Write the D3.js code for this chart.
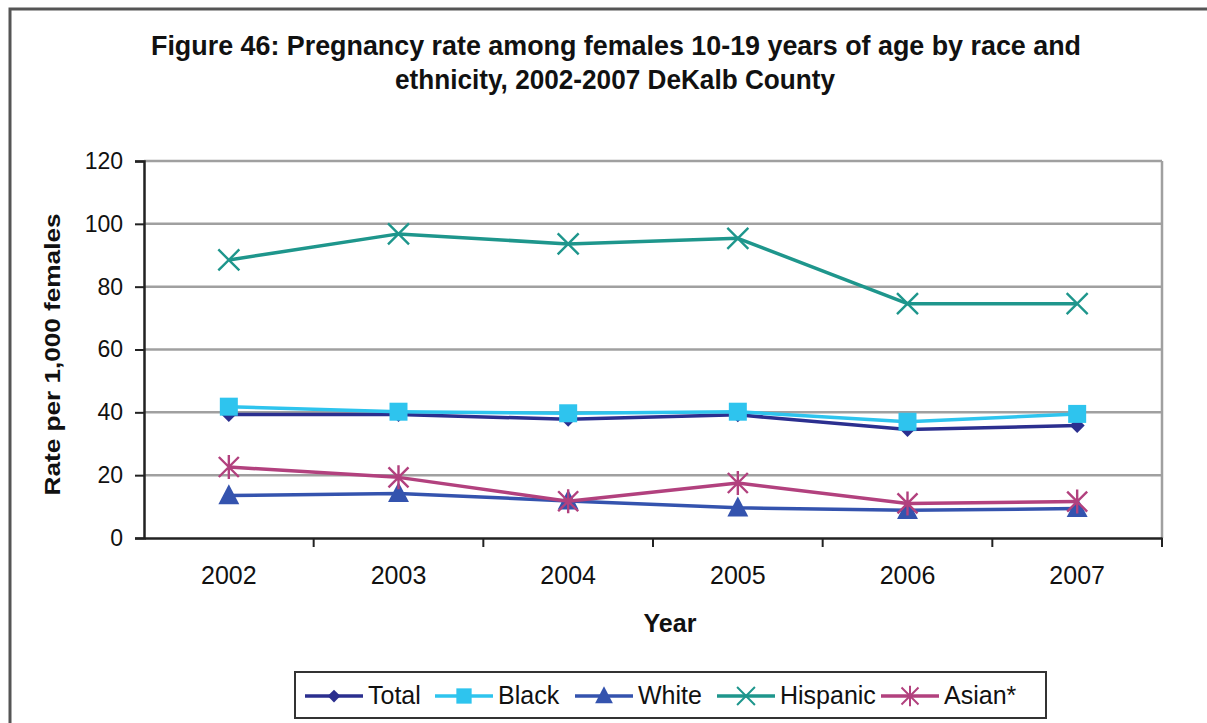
<!DOCTYPE html>
<html>
<head>
<meta charset="utf-8">
<script src="https://cdn.jsdelivr.net/npm/d3@7/dist/d3.min.js"></script>
<style>
  html, body { margin: 0; padding: 0; background: #fff; }
  svg { display: block; }
  text { font-family: "Liberation Sans", Arial, sans-serif; fill: #111; }
</style>
</head>
<body>
<svg id="chart" width="1207" height="723"></svg>
<script>
// Pregnancy rate per 1,000 females aged 10-19, DeKalb County
const years = ["2002", "2003", "2004", "2005", "2006", "2007"];
const total    = [39.3, 39.3, 37.8, 39.2, 34.5, 35.8];
const black    = [41.8, 40.2, 39.7, 40.2, 37.0, 39.5];
const white    = [13.5, 14.2, 11.8, 9.6, 8.8, 9.4];
const hispanic = [88.5, 96.8, 93.6, 95.4, 74.6, 74.6];
const asian    = [22.6, 19.3, 11.7, 17.5, 11.0, 11.6];
const yTicks = [0, 20, 40, 60, 80, 100, 120];

const seriesNames = ["Total", "Black", "White", "Hispanic", "Asian*"];
const seriesValues = [total, black, white, hispanic, asian];
const seriesColors = ["#2B2F8F", "#2EC4EE", "#3453AE", "#1E968C", "#B2417E"];
const seriesMarkers = ["diamond", "square", "triangle", "x", "asterisk"];

const svg = d3.select("#chart");

// outer frame (top and left edges visible)
svg.append("path")
  .attr("d", "M10,723 L10,9 L1207,9")
  .attr("fill", "none")
  .attr("stroke", "#555")
  .attr("stroke-width", 3);

// title
const title = svg.append("g");
title.append("text")
  .attr("x", 616).attr("y", 55)
  .attr("text-anchor", "middle")
  .attr("font-size", 27).attr("font-weight", "bold")
  .attr("textLength", 930).attr("lengthAdjust", "spacingAndGlyphs")
  .text("Figure 46: Pregnancy rate among females 10-19 years of age by race and");
title.append("text")
  .attr("x", 615).attr("y", 89)
  .attr("text-anchor", "middle")
  .attr("font-size", 27).attr("font-weight", "bold")
  .attr("textLength", 440).attr("lengthAdjust", "spacingAndGlyphs")
  .text("ethnicity, 2002-2007 DeKalb County");

// plot area
const plotLeft = 144, plotRight = 1162, plotTop = 161, plotBottom = 538;

const x = d3.scaleBand().domain(years).range([plotLeft, plotRight]).padding(0);
const y = d3.scaleLinear().domain([0, 120]).range([plotBottom, plotTop]);

// gridlines
svg.append("g")
  .selectAll("line")
  .data(yTicks.filter(d => d > 0))
  .join("line")
  .attr("x1", plotLeft).attr("x2", plotRight)
  .attr("y1", d => y(d)).attr("y2", d => y(d))
  .attr("stroke", "#a0a0a0")
  .attr("stroke-width", 2.5);

// right edge of plot area
svg.append("line")
  .attr("x1", plotRight).attr("x2", plotRight)
  .attr("y1", plotTop).attr("y2", plotBottom)
  .attr("stroke", "#a0a0a0")
  .attr("stroke-width", 2.5);

// y axis
const yAxis = svg.append("g")
  .attr("transform", `translate(${plotLeft},0)`)
  .call(d3.axisLeft(y).tickValues(yTicks).tickSize(9).tickPadding(12));
yAxis.select(".domain").attr("stroke", "#222").attr("stroke-width", 2.5);
yAxis.selectAll(".tick line").attr("stroke", "#222").attr("stroke-width", 2);
yAxis.selectAll(".tick text")
  .attr("font-family", "Liberation Sans, Arial, sans-serif")
  .attr("font-size", 23).attr("fill", "#222");

// x axis: labels centered in bands, tick marks at band edges
const xAxis = svg.append("g")
  .attr("transform", `translate(0,${plotBottom})`)
  .call(d3.axisBottom(x).tickSize(0).tickPadding(28));
xAxis.select(".domain").attr("stroke", "#222").attr("stroke-width", 2.5);
xAxis.selectAll(".tick text")
  .attr("font-family", "Liberation Sans, Arial, sans-serif")
  .attr("font-size", 25).attr("fill", "#222");
xAxis.append("g")
  .selectAll("line")
  .data(years.map(d => x(d) + x.bandwidth()))
  .join("line")
  .attr("x1", d => d).attr("x2", d => d)
  .attr("y1", 0).attr("y2", 9)
  .attr("stroke", "#222").attr("stroke-width", 2);

// axis titles
svg.append("text")
  .attr("x", 670).attr("y", 632)
  .attr("text-anchor", "middle")
  .attr("font-size", 25).attr("font-weight", "bold")
  .text("Year");
svg.append("text")
  .attr("transform", `translate(60,${(plotTop + plotBottom) / 2 + 5}) rotate(-90)`)
  .attr("text-anchor", "middle")
  .attr("font-size", 22).attr("font-weight", "bold")
  .attr("textLength", 282).attr("lengthAdjust", "spacingAndGlyphs")
  .text("Rate per 1,000 females");

// marker shapes
function markerPath(type, s) {
  switch (type) {
    case "diamond": return `M0,${-s} L${s},0 L0,${s} L${-s},0 Z`;
    case "square": return `M${-s},${-s} H${s} V${s} H${-s} Z`;
    case "triangle": return `M0,${-s * 1.2} L${s * 1.1},${s * 0.9} L${-s * 1.1},${s * 0.9} Z`;
    case "x": return `M${-s},${-s} L${s},${s} M${-s},${s} L${s},${-s}`;
    case "asterisk": return `M${-s},${-s} L${s},${s} M${-s},${s} L${s},${-s} M0,${-s * 1.2} L0,${s * 1.2}`;
  }
}
const markerSize = { diamond: 7.5, square: 9, triangle: 9.5, x: 10.5, asterisk: 10 };
const isStroke = t => t === "x" || t === "asterisk";

const line = d3.line()
  .x((d, i) => x(years[i]) + x.bandwidth() / 2)
  .y(d => y(d));

// draw series in order so later series sit on top
const order = [0, 1, 2, 4, 3];
order.forEach(k => {
  const g = svg.append("g");
  g.append("path")
    .datum(seriesValues[k])
    .attr("d", line)
    .attr("fill", "none")
    .attr("stroke", seriesColors[k])
    .attr("stroke-width", 3.5)
    .attr("stroke-linejoin", "round");
  const m = seriesMarkers[k];
  g.selectAll("path.mk")
    .data(seriesValues[k])
    .join("path")
    .attr("class", "mk")
    .attr("transform", (d, i) => `translate(${x(years[i]) + x.bandwidth() / 2},${y(d)})`)
    .attr("d", markerPath(m, markerSize[m]))
    .attr("fill", isStroke(m) ? "none" : seriesColors[k])
    .attr("stroke", isStroke(m) ? seriesColors[k] : "none")
    .attr("stroke-width", 2.4);
});

// legend
const legend = svg.append("g");
legend.append("rect")
  .attr("x", 295).attr("y", 672)
  .attr("width", 751).attr("height", 46)
  .attr("fill", "#fff")
  .attr("stroke", "#333").attr("stroke-width", 2);

const legendX = [305, 435, 575, 717, 881];
seriesNames.forEach((name, k) => {
  const g = legend.append("g").attr("transform", `translate(${legendX[k]},696)`);
  g.append("line")
    .attr("x1", 0).attr("x2", 58)
    .attr("stroke", seriesColors[k]).attr("stroke-width", 3.5);
  const m = seriesMarkers[k];
  g.append("path")
    .attr("transform", "translate(29,0)")
    .attr("d", markerPath(m, markerSize[m] * 0.85))
    .attr("fill", isStroke(m) ? "none" : seriesColors[k])
    .attr("stroke", isStroke(m) ? seriesColors[k] : "none")
    .attr("stroke-width", 2);
  g.append("text")
    .attr("x", 63).attr("y", 8)
    .attr("font-size", 25)
    .attr("fill", "#111")
    .text(name);
});
</script>
</body>
</html>
